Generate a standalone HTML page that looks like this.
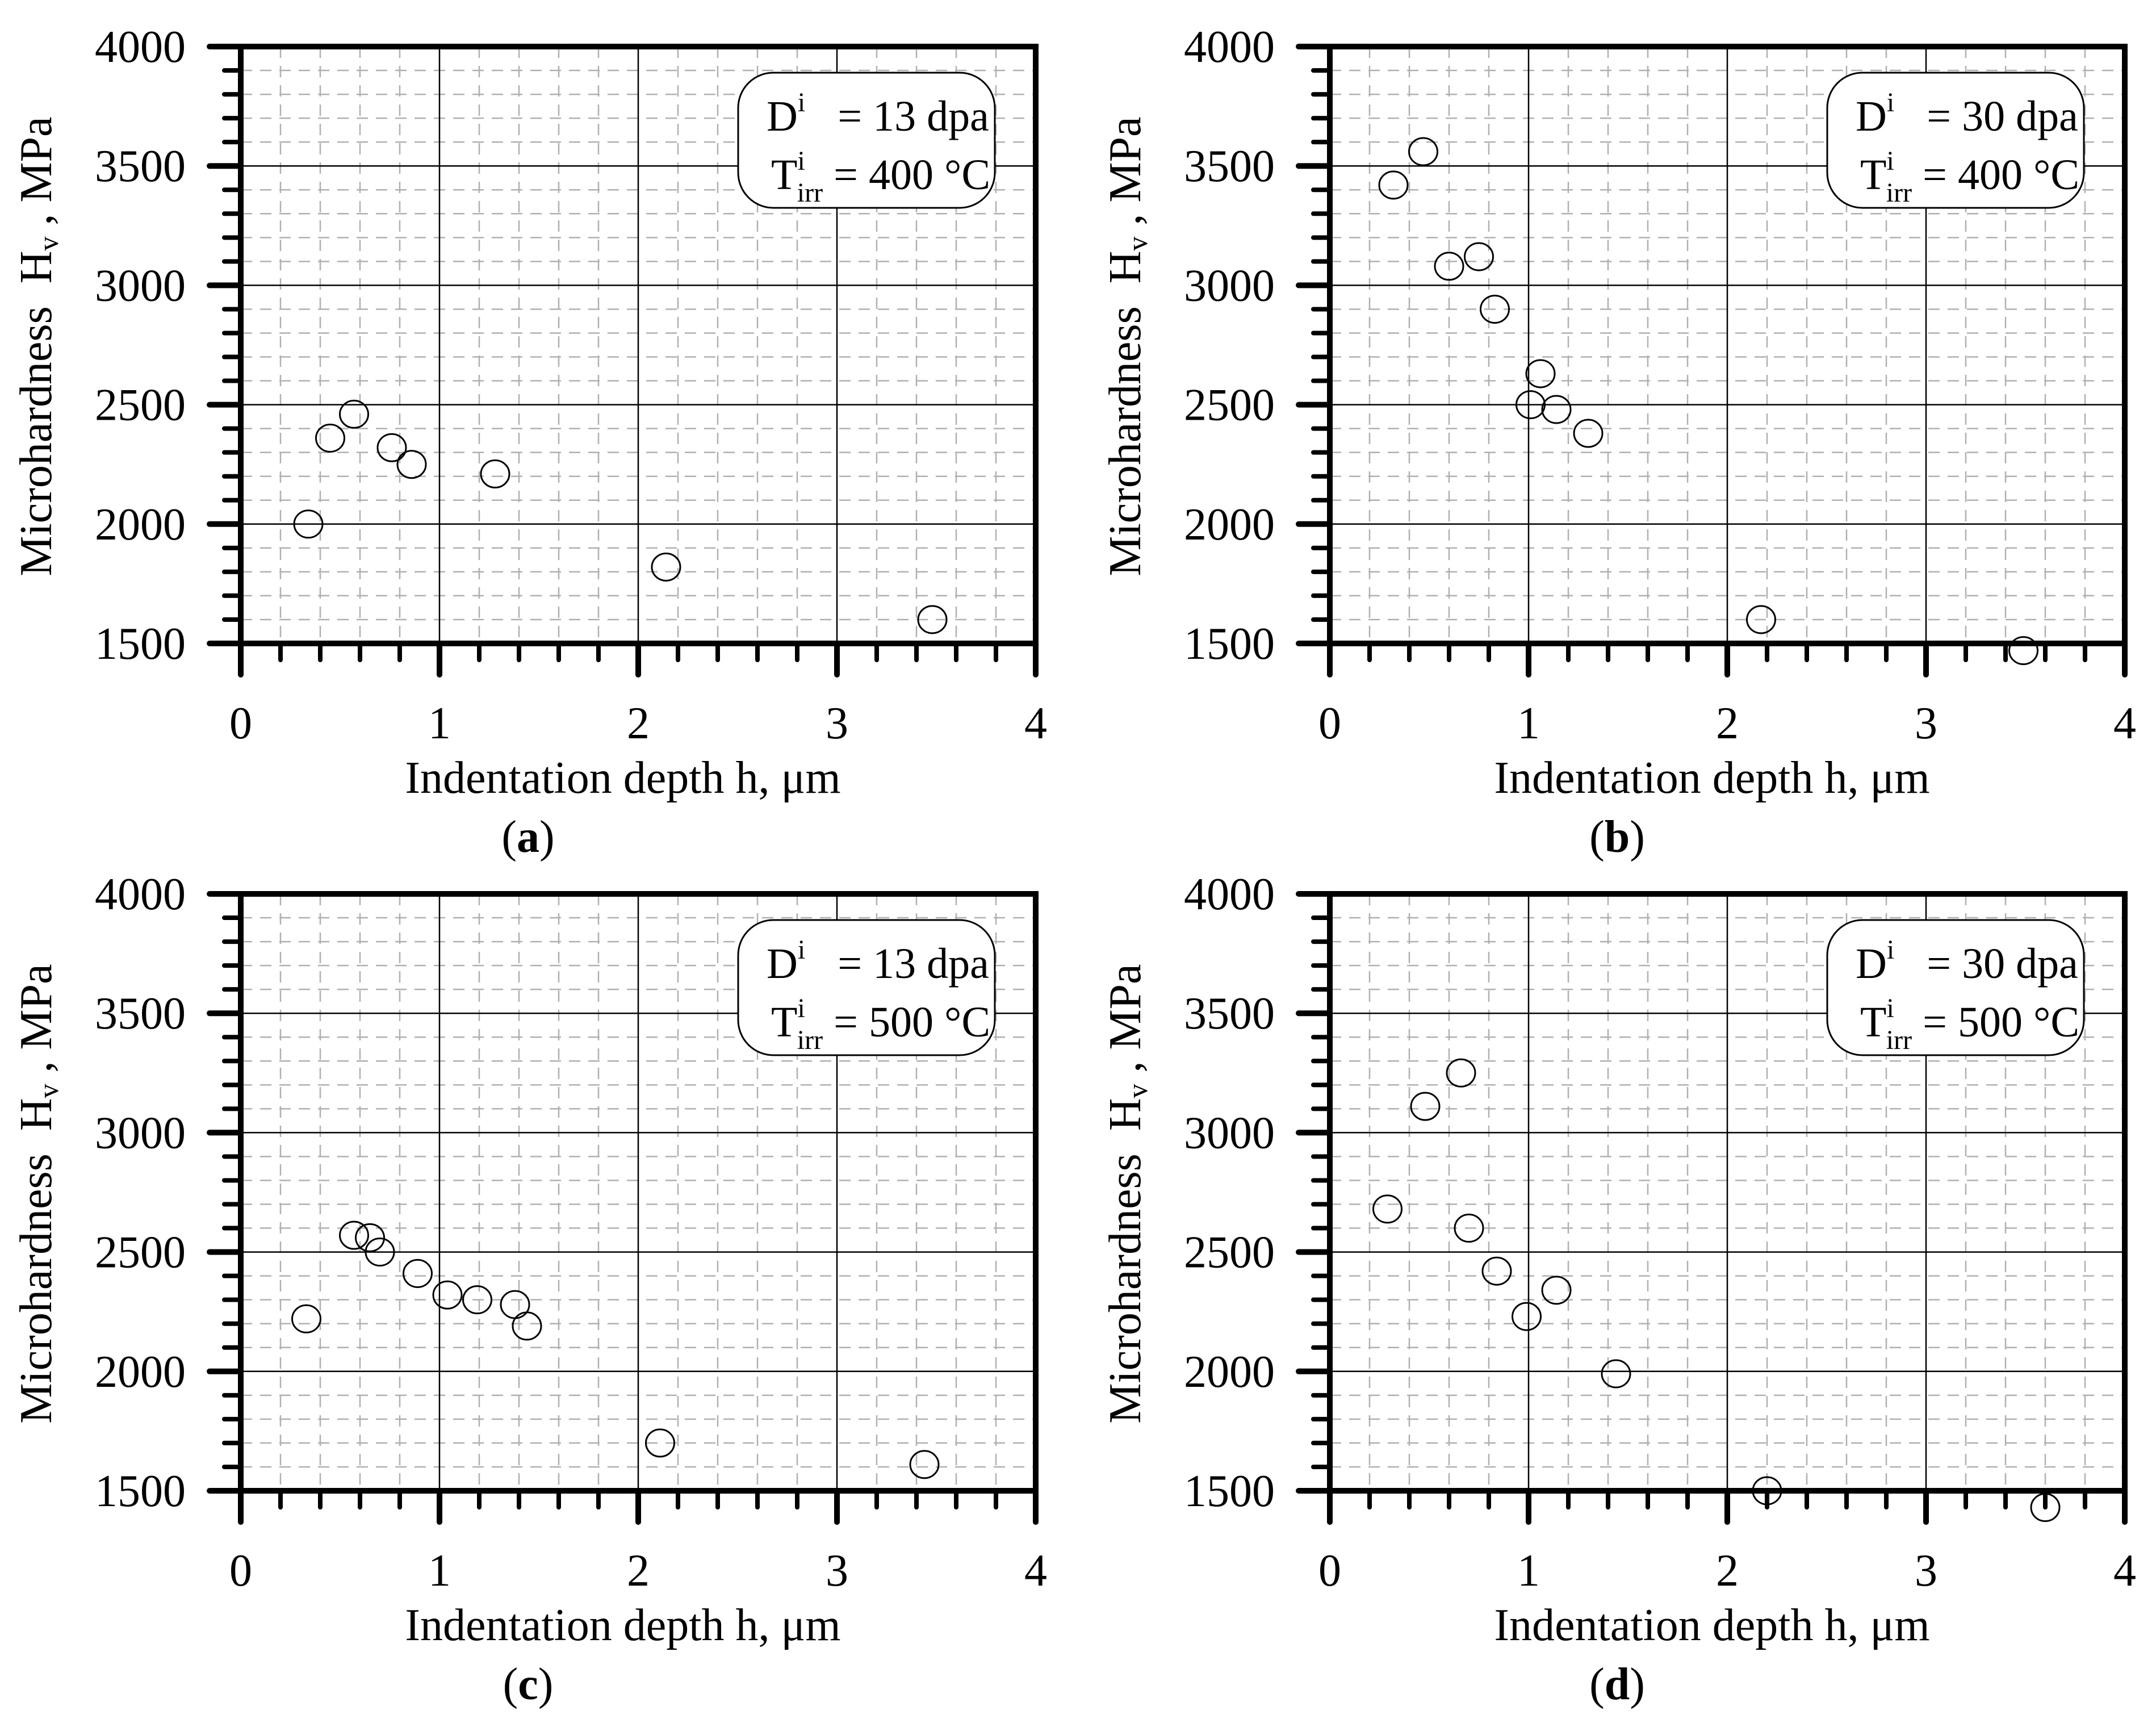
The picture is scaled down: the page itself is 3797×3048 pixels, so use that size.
<!DOCTYPE html>
<html><head><meta charset="utf-8">
<style>
html,body{margin:0;padding:0;background:#fff;}
svg{display:block;}
text{font-family:"Liberation Serif",serif;fill:#000;}
</style></head>
<body>
<svg id="fig" width="3797" height="3048" viewBox="0 0 3797 3048" xmlns="http://www.w3.org/2000/svg"></svg>
<script>
// Panel data (h in µm, Hv in MPa)
const xTicks = [0, 1, 2, 3, 4];
const yTicks = [1500, 2000, 2500, 3000, 3500, 4000];
const panelLabels = ["a", "b", "c", "d"];
const doseLabels = ["13", "30", "13", "30"];
const tempLabels = ["400", "400", "500", "500"];
const hA = [0.34, 0.45, 0.57, 0.76, 0.86, 1.28, 2.14, 3.48];
const hvA = [2000, 2360, 2460, 2320, 2250, 2210, 1820, 1600];
const hB = [0.32, 0.47, 0.60, 0.75, 0.83, 1.06, 1.01, 1.14, 1.30, 2.17, 3.49];
const hvB = [3420, 3560, 3080, 3120, 2900, 2630, 2500, 2480, 2380, 1600, 1470];
const hC = [0.33, 0.57, 0.65, 0.70, 0.89, 1.04, 1.19, 1.38, 1.44, 2.11, 3.44];
const hvC = [2220, 2570, 2560, 2500, 2410, 2320, 2300, 2280, 2190, 1700, 1610];
const hD = [0.29, 0.48, 0.66, 0.70, 0.84, 0.99, 1.14, 1.44, 2.20, 3.60];
const hvD = [2680, 3110, 3250, 2600, 2420, 2230, 2340, 1990, 1500, 1430];
const seriesX = [hA, hB, hC, hD];
const seriesY = [hvA, hvB, hvC, hvD];

const NS = "http://www.w3.org/2000/svg";
const svg = document.getElementById("fig");
function mk(tag, attrs, parent) {
  const e = document.createElementNS(NS, tag);
  for (const k in attrs) e.setAttribute(k, attrs[k]);
  (parent || svg).appendChild(e);
  return e;
}
const offsets = [[0, 0], [1918, 0], [0, 1492], [1918, 1492]];
const X0 = 424, X1 = 1824, Y0 = 1133, Y1 = 82;

offsets.forEach(function (off, p) {
  const ox = off[0], oy = off[1];
  const g = mk("g", {});
  
  
  const sx = v => ox + X0 + (v - 0) / 4 * (X1 - X0);
  const sy = v => oy + Y0 - (v - 1500) / 2500 * (Y0 - Y1);
  const L = ox + X0, R = ox + X1, T = oy + Y1, B = oy + Y0;
  for (let v = 0.2; v < 4; v += 0.2) {
    if (Math.abs(v - Math.round(v)) < 1e-6) continue;
    const l = mk("line", {x1: sx(v), x2: sx(v), y1: T, y2: B, stroke: "#b0b0b0", "stroke-width": 2.5, "stroke-dasharray": "20 14"}, g);
    
    
  }
  for (let v = 1600; v < 4000; v += 100) {
    if (v % 500 === 0) continue;
    const l = mk("line", {x1: L, x2: R, y1: sy(v), y2: sy(v), stroke: "#b0b0b0", "stroke-width": 2.5, "stroke-dasharray": "20 14"}, g);
    
    
  }
  xTicks.forEach(v => {
    if (v === 0 || v === 4) return;
    const l = mk("line", {x1: sx(v), x2: sx(v), y1: T, y2: B, stroke: "#000", "stroke-width": 2.5}, g);
    
    
  });
  yTicks.forEach(v => {
    if (v === 1500 || v === 4000) return;
    const l = mk("line", {x1: L, x2: R, y1: sy(v), y2: sy(v), stroke: "#000", "stroke-width": 2.5}, g);
    
    
  });
  for (let v = 0.2; v < 4; v += 0.2) {
    const major = Math.abs(v - Math.round(v)) < 1e-6;
    const t = mk("line", {x1: sx(v), x2: sx(v), y1: B, y2: B + (major ? 55 : 29), stroke: "#000", "stroke-width": major ? 10 : 8, "stroke-linecap": "round"}, g);
    
    
  }
  for (let v = 1600; v < 4000; v += 100) {
    const major = v % 500 === 0;
    const t = mk("line", {x1: L, x2: L - (major ? 55 : 29), y1: sy(v), y2: sy(v), stroke: "#000", "stroke-width": major ? 10 : 8, "stroke-linecap": "round"}, g);
    
    
  }
  const fr = mk("path", {d: `M${L - 55} ${T} H${R} V${B} H${L - 55} M${L} ${T} V${B + 55} M${R} ${B} V${B + 55}`, stroke: "#000", "stroke-width": 10, fill: "none", "stroke-linecap": "round"}, g);
  
  
  xTicks.forEach(v => {
    const t = mk("text", {x: sx(v), y: B + 167, "font-size": 80, "text-anchor": "middle"}, g);
    t.textContent = v;
    
    
  });
  yTicks.forEach(v => {
    const t = mk("text", {x: ox + 327, y: sy(v) + 27, "font-size": 80, "text-anchor": "end"}, g);
    t.textContent = v;
    
    
  });
  const xt = mk("text", {x: ox + 1097, y: oy + 1396, "font-size": 80, "text-anchor": "middle"}, g);
  xt.textContent = "Indentation depth h, μm";
  
  
  const yt = mk("text", {transform: `translate(${ox + 90},${oy + 610}) rotate(-90)`, "font-size": 80, "text-anchor": "middle", "xml:space": "preserve"}, g);
  yt.setAttributeNS("http://www.w3.org/XML/1998/namespace", "xml:space", "preserve");
  yt.innerHTML = 'Microhardness  H<tspan font-size="50" dy="12">v</tspan><tspan dy="-12"> , MPa</tspan>';
  
  
  const pl = mk("text", {x: ox + 930, y: oy + 1500, "font-size": 80, "text-anchor": "middle"}, g);
  pl.innerHTML = '(<tspan font-weight="bold">' + panelLabels[p] + '</tspan>)';
  
  
  const lb = mk("rect", {x: ox + 1300, y: oy + 128, width: 452, height: 238, rx: 62, ry: 62, fill: "#fff", stroke: "#000", "stroke-width": 3}, g);
  
  
  const l1 = mk("text", {x: ox + 1350, y: oy + 230, "font-size": 76}, g);
  l1.innerHTML = 'D<tspan font-size="48" dy="-34">i</tspan><tspan dy="34" xml:space="preserve">   = ' + doseLabels[p] + ' dpa</tspan>';
  
  
  const l2 = mk("text", {x: ox + 1358, y: oy + 333, "font-size": 76}, g);
  l2.innerHTML = 'T<tspan font-size="48" dy="-34">i</tspan><tspan font-size="48" dx="-14" dy="56">irr</tspan><tspan dy="-22"> = ' + tempLabels[p] + ' °C</tspan>';
  
  
  const xs = seriesX[p], ys = seriesY[p];
  for (let i = 0; i < xs.length; i++) {
    const c = mk("ellipse", {cx: sx(xs[i]), cy: sy(ys[i]), rx: 25, ry: 24, fill: "none", stroke: "#000", "stroke-width": 3}, g);
    
    
  }
});
</script>
</body></html>
